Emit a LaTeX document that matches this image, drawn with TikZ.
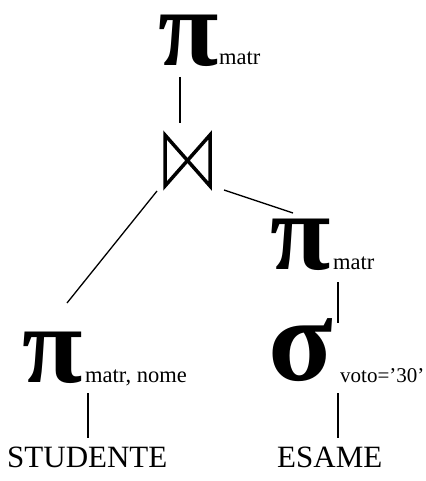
\documentclass[tikz,border=0pt]{standalone}
\usepackage{fontspec}
\setmainfont{Liberation Serif}
\begin{document}
\begin{tikzpicture}[x=1pt,y=-1pt,
  op/.style={inner sep=0pt,anchor=base west,text height=0.45em,text depth=0pt,font=\fontsize{110}{110}\selectfont\bfseries},
  sub/.style={inner sep=0pt,anchor=base west,font=\fontsize{22.5}{22.5}\selectfont},
  rel/.style={inner sep=0pt,anchor=base west,font=\fontsize{31}{31}\selectfont},
  conn/.style={line width=1.3pt}]
\useasboundingbox (0,0) rectangle (425,481);
% top projection
\node[op] (pitop) at (158,66) {π};
\node[sub] (pitopsub) at (219,65) {matr};
% join
\draw[line width=3.5pt,line join=miter] (165,135) -- (210,186) -- (210,135) -- (165,186) -- cycle;
\coordinate (join) at (187,160);
% right projection
\node[op] (piright) at (270,269) {π};
\node[sub] (pirightsub) at (333,269) {matr};
% left projection
\node[op] (pileft) at (22,382) {π};
\node[sub] (pileftsub) at (85,382) {matr, nome};
% selection
\node[op,font=\fontsize{119}{119}\selectfont\bfseries] (sigma) at (268,380) {σ};
\node[sub,font=\fontsize{21}{21}\selectfont] (sigmasub) at (340,382) {voto=’30’};
% relations
\node[rel] (stud) at (7,467) {STUDENTE};
\node[rel] (esame) at (277,467) {ESAME};
% connector ends
\coordinate (c1a) at (180,77); \coordinate (c1b) at (180,123);
\coordinate (c2a) at (157,191); \coordinate (c2b) at (67,303);
\coordinate (c3a) at (224,190); \coordinate (c3b) at (293,213);
\coordinate (c4a) at (338,282); \coordinate (c4b) at (338,323);
\coordinate (c5a) at (88,393); \coordinate (c5b) at (88,438);
\coordinate (c6a) at (338,393); \coordinate (c6b) at (338,438);
\draw[conn] (c1a) -- (c1b);
\draw[conn] (c2a) -- (c2b);
\draw[conn] (c3a) -- (c3b);
\draw[conn] (c4a) -- (c4b);
\draw[conn] (c5a) -- (c5b);
\draw[conn] (c6a) -- (c6b);
\end{tikzpicture}
\end{document}
